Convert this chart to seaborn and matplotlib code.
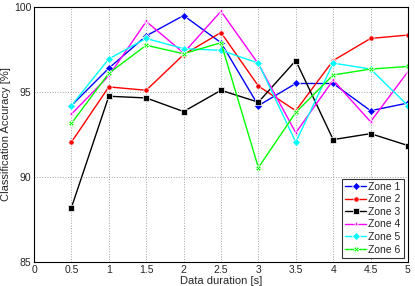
import pandas as pd
import matplotlib
matplotlib.use("Agg")
from matplotlib import pyplot as plt
import seaborn as sns

# Data
durations = [0.5, 1.0, 1.5, 2.0, 2.5, 3.0, 3.5, 4.0, 4.5, 5.0]
zone1 = [94.2, 96.4, 98.3, 99.5, 97.9, 94.2, 95.5, 95.5, 93.9, 94.35]
zone2 = [92.05, 95.3, 95.1, 97.2, 98.5, 95.35, 93.9, 96.85, 98.15, 98.35]
zone3 = [88.2, 94.75, 94.65, 93.85, 95.1, 94.4, 96.85, 92.2, 92.55, 91.85]
zone4 = [93.7, 95.95, 99.15, 97.3, 99.75, 96.65, 92.6, 95.7, 93.25, 96.2]
zone5 = [94.2, 96.95, 98.15, 97.55, 97.45, 96.7, 92.05, 96.7, 96.35, 94.2]
zone6 = [93.15, 96.1, 97.75, 97.25, 97.9, 90.55, 93.8, 96.0, 96.35, 96.5]

zone_names = ["Zone 1", "Zone 2", "Zone 3", "Zone 4", "Zone 5", "Zone 6"]
zone_colors = ["#0000ff", "#ff0000", "#000000", "#ff00ff", "#00ffff", "#00ff00"]
zone_markers = ["D", "o", "s", "*", "D", "X"]

rows = []
for name, vals in zip(zone_names, [zone1, zone2, zone3, zone4, zone5, zone6]):
    for d, v in zip(durations, vals):
        rows.append({"duration": d, "accuracy": v, "zone": name})
df = pd.DataFrame(rows)

sns.set_style("white")
plt.rcParams["font.family"] = ["Liberation Sans", "DejaVu Sans"]

fig = plt.figure(figsize=(4.15, 2.86), dpi=100)
ax = fig.add_axes([0.082, 0.084, 0.901, 0.8915])

sns.lineplot(
    data=df, x="duration", y="accuracy", hue="zone", style="zone",
    palette=dict(zip(zone_names, zone_colors)),
    markers=dict(zip(zone_names, zone_markers)),
    dashes=False, linewidth=1.0, markersize=3.8, markeredgewidth=0.5,
    ax=ax,
)

ax.set_xlim(0, 5)
ax.set_ylim(85, 100)
ax.set_xticks([0, 0.5, 1, 1.5, 2, 2.5, 3, 3.5, 4, 4.5, 5])
ax.set_xticklabels(["0", "0.5", "1", "1.5", "2", "2.5", "3", "3.5", "4", "4.5", "5"])
ax.set_yticks([85, 90, 95, 100])
ax.grid(True, linestyle=":", color="#a0a0a0", linewidth=0.7)
ax.tick_params(direction="in", length=3, labelsize=7.5, pad=2)
for sp in ax.spines.values():
    sp.set_color("black")
    sp.set_linewidth(0.8)

ax.set_xlabel("Data duration [s]", fontsize=8, labelpad=1)
ax.set_ylabel("Classification Accuracy [%]", fontsize=8, labelpad=2)

leg = ax.legend(loc="lower right", fontsize=7.5, frameon=True, fancybox=False,
                handlelength=2.0, borderaxespad=0.4, labelspacing=0.25,
                handletextpad=0.2, borderpad=0.3)
leg.get_frame().set_edgecolor("black")
leg.get_frame().set_linewidth(0.8)

fig.savefig("out.png", dpi=100)
